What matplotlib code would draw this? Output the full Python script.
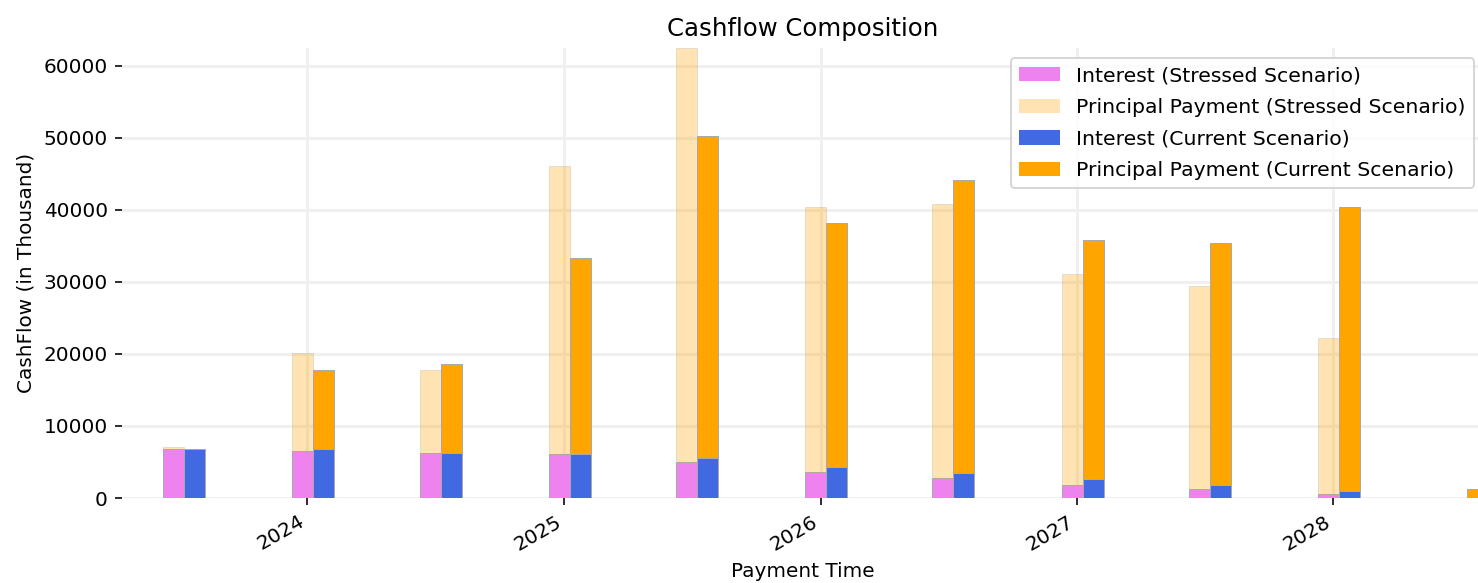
import matplotlib

matplotlib.use("Agg")
import matplotlib.dates as mdates
import matplotlib.pyplot as plt
import numpy as np
import pandas as pd

# Semiannual payment dates
payment_dates = [
    "2023-07-10", "2024-01-09", "2024-07-09", "2025-01-09", "2025-07-09",
    "2026-01-09", "2026-07-09", "2027-01-09", "2027-07-09", "2028-01-09",
    "2028-07-09",
]

# Cashflows in thousands
interest_stressed = [6760, 6530, 6300, 6110, 5050, 3660, 2820, 1810, 1200, 600, 0]
principal_stressed = [370, 13650, 11430, 40000, 57400, 36670, 37970, 29250, 28200, 21580, 0]
interest_current = [6760, 6760, 6300, 6110, 5510, 4310, 3420, 2640, 1810, 970, 20]
principal_current = [0, 10970, 12260, 27130, 44680, 33840, 40650, 33100, 33510, 39400, 1230]

dates = pd.to_datetime(payment_dates)
half = pd.Timedelta(days=15)
width = 30  # days

fig = plt.figure(figsize=(1478 / 144, 583 / 144), dpi=144)
ax = fig.add_axes([122 / 1478, 85 / 583, (1484 - 122) / 1478, 450 / 583])

edge = dict(edgecolor="darkgrey", linewidth=0.5)
ax.bar(dates - half, interest_stressed, width=width, color="violet",
       label="Interest (Stressed Scenario)", **edge)
ax.bar(dates - half, principal_stressed, width=width, bottom=interest_stressed,
       color="orange", alpha=0.3, label="Principal Payment (Stressed Scenario)", **edge)
ax.bar(dates + half, interest_current, width=width, color="royalblue",
       label="Interest (Current Scenario)", **edge)
ax.bar(dates + half, principal_current, width=width, bottom=interest_current,
       color="orange", label="Principal Payment (Current Scenario)", **edge)

top = max(np.add(interest_stressed, principal_stressed).max(),
          np.add(interest_current, principal_current).max())
ax.set_ylim(0, top)

# x range chosen so the last bar is cut at the right edge, as in the source
day = 1026 / 1461  # pixels per day
x0 = mdates.date2num(pd.Timestamp("2024-01-01")) - (307.3 - 122) / day
x1 = mdates.date2num(pd.Timestamp("2028-01-01")) + (1484 - 1333.3) / day
ax.set_xlim(x0, x1)

ax.xaxis.set_major_locator(mdates.YearLocator())
ax.xaxis.set_major_formatter(mdates.DateFormatter("%Y"))
for lbl in ax.get_xticklabels():
    lbl.set_rotation(30)
    lbl.set_ha("right")

ax.set_yticks(np.arange(0, 60001, 10000))
ax.set_axisbelow(True)
ax.grid(True, color="#f0f0f0", linewidth=1.5)
for s in ax.spines.values():
    s.set_visible(False)

ax.set_title("Cashflow Composition", fontsize=12.2)
ax.set_xlabel("Payment Time")
ax.set_ylabel("CashFlow (in Thousand)")
leg = ax.legend(loc="upper right", fontsize=10.2, labelspacing=0.62)
for h in leg.legend_handles:
    h.set_edgecolor("none")

fig.savefig("out.png", dpi=144)
